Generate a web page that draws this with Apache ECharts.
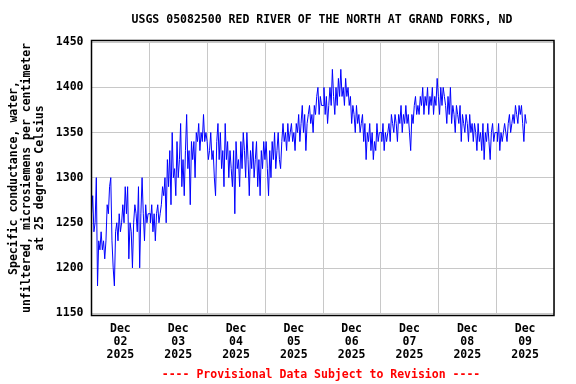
<!DOCTYPE html>
<html>
<head>
<meta charset="utf-8">
<script src="https://cdn.jsdelivr.net/npm/echarts@6/dist/echarts.min.js"></script>
<style>
html,body{margin:0;padding:0;background:#fff;}
#chart{width:576px;height:384px;}
</style>
</head>
<body>
<div id="chart"></div>
<script>
// Specific conductance, 30-minute readings starting Dec 02 2025 00:00
var dec02 = [1260,1280,1240,1250,1300,1180,1230,1220,1240,1220,1230,1210,1230,1270,1260,1290,1300,1230,1200,1180,1240,1250,1230,1260,1240,1250,1270,1250,1290,1260,1290,1210,1250,1240,1200,1250,1270,1260,1240,1290,1200,1260,1300,1260,1230,1270,1250,1260];
var dec03 = [1260,1250,1270,1240,1260,1230,1260,1270,1250,1260,1270,1290,1280,1300,1250,1320,1290,1330,1270,1350,1300,1310,1280,1340,1300,1320,1360,1290,1320,1280,1330,1370,1310,1330,1270,1340,1320,1340,1300,1350,1340,1360,1330,1350,1340,1370,1340,1350];
var dec04 = [1340,1320,1330,1350,1320,1330,1300,1280,1340,1360,1320,1350,1310,1330,1290,1360,1320,1340,1300,1330,1310,1290,1330,1260,1340,1310,1320,1290,1340,1310,1350,1330,1300,1350,1320,1280,1330,1310,1340,1300,1320,1340,1290,1320,1280,1330,1310,1340];
var dec05 = [1320,1340,1310,1280,1330,1300,1340,1320,1350,1310,1330,1350,1320,1310,1340,1360,1340,1350,1330,1360,1340,1350,1360,1340,1350,1330,1360,1350,1370,1340,1360,1380,1350,1370,1330,1360,1370,1380,1360,1370,1350,1380,1370,1390,1400,1370,1390,1380];
var dec06 = [1380,1400,1370,1390,1360,1380,1400,1380,1420,1390,1370,1400,1380,1410,1390,1420,1390,1400,1380,1410,1390,1400,1380,1390,1360,1380,1370,1350,1380,1360,1370,1350,1360,1370,1340,1360,1320,1350,1340,1360,1330,1350,1320,1340,1330,1360,1340,1350];
var dec07 = [1350,1340,1360,1330,1350,1340,1350,1360,1340,1370,1360,1350,1370,1360,1340,1370,1360,1380,1350,1370,1360,1380,1360,1370,1350,1330,1370,1360,1380,1390,1370,1380,1370,1390,1380,1400,1370,1390,1380,1400,1370,1390,1380,1400,1370,1390,1380,1410];
var dec08 = [1390,1370,1400,1380,1400,1390,1380,1360,1390,1370,1400,1360,1380,1370,1350,1380,1370,1360,1380,1340,1370,1360,1350,1370,1360,1340,1370,1350,1360,1340,1360,1350,1330,1360,1340,1350,1330,1360,1320,1350,1340,1360,1340,1320,1350,1360,1340,1350];
var dec09 = [1350,1340,1360,1330,1350,1340,1350,1360,1350,1340,1360,1370,1350,1360,1370,1360,1380,1370,1360,1380,1370,1380,1360,1340,1370,1360];

var dayLabels = ['02','03','04','05','06','07','08','09'];
var yTicks = [1150,1200,1250,1300,1350,1400,1450];

var values = [].concat(dec02, dec03, dec04, dec05, dec06, dec07, dec08, dec09);
var seriesData = values.map(function (v, i) { return [i * 0.5, v]; });

var mono = '"DejaVu Sans Mono", "Liberation Mono", monospace';
var chart = echarts.init(document.getElementById('chart'));
chart.setOption({
  animation: false,
  backgroundColor: '#ffffff',
  grid: { left: 91.5, right: 22, top: 42.3, bottom: 71, containLabel: false },
  xAxis: {
    type: 'value', min: 0, max: 192, interval: 24,
    axisLine: { show: false }, axisTick: { show: false },
    splitLine: { show: true, lineStyle: { color: '#c8c8c8', width: 1 } },
    axisLabel: {
      customValues: [12, 36, 60, 84, 108, 132, 156, 180],
      margin: 10, lineHeight: 13,
      fontFamily: mono, fontWeight: 'bold', fontSize: 11.5, color: '#000',
      formatter: function (v) { return 'Dec\n' + dayLabels[Math.floor(v / 24)] + '\n2025'; }
    }
  },
  yAxis: {
    type: 'value', min: 1150, max: 1450, interval: 50,
    axisLine: { show: false }, axisTick: { show: false },
    splitLine: { show: true, lineStyle: { color: '#c8c8c8', width: 1 } },
    axisLabel: {
      margin: 8, fontFamily: mono, fontWeight: 'bold', fontSize: 11.5, color: '#000',
      formatter: function (v) { return yTicks.indexOf(v) >= 0 ? String(v) : ''; }
    }
  },
  series: [{
    type: 'line', data: seriesData, step: 'end', showSymbol: false,
    lineStyle: { color: '#0000ff', width: 1 }, z: 3
  }],
  graphic: [
    { type: 'rect', shape: { x: 91.5, y: 40.5, width: 462.5, height: 275 },
      style: { fill: 'none', stroke: '#000', lineWidth: 1.5 }, z: 100 },
    { type: 'text', x: 322, y: 20,
      style: { text: 'USGS 05082500 RED RIVER OF THE NORTH AT GRAND FORKS, ND',
        font: 'bold 11.5px ' + mono, fill: '#000', textAlign: 'center', textVerticalAlign: 'middle' } },
    { type: 'text', x: 27, y: 178, rotation: Math.PI / 2,
      style: { text: 'Specific conductance, water,\nunfiltered, microsiemens per centimeter\nat 25 degrees Celsius',
        font: 'bold 11.5px ' + mono, lineHeight: 13, fill: '#000', textAlign: 'center', textVerticalAlign: 'middle' } },
    { type: 'text', x: 321, y: 375,
      style: { text: '---- Provisional Data Subject to Revision ----',
        font: 'bold 11.5px ' + mono, fill: '#ff0000', textAlign: 'center', textVerticalAlign: 'middle' } }
  ]
});
</script>
</body>
</html>
